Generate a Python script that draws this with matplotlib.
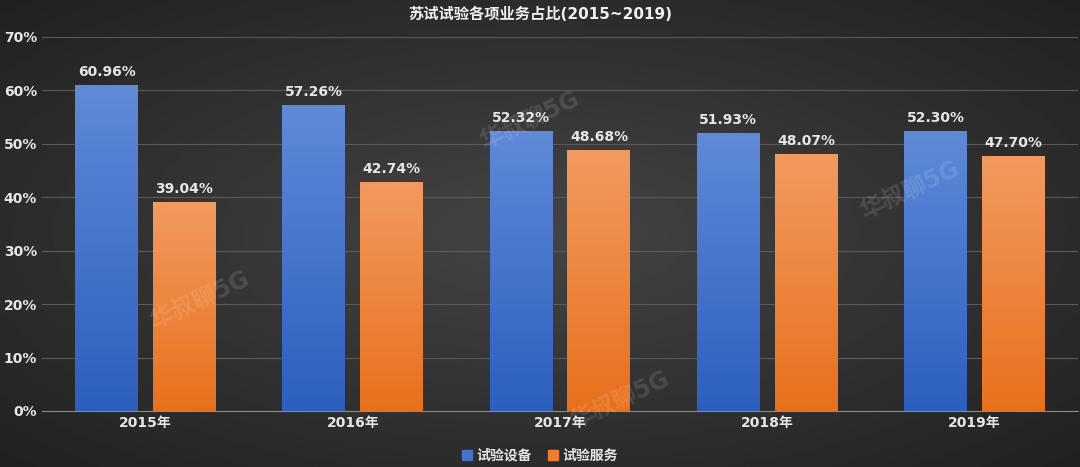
import matplotlib
matplotlib.use("Agg")
import matplotlib.pyplot as plt
import numpy as np
from matplotlib.patches import Patch
from matplotlib import font_manager

names = {f.name for f in font_manager.fontManager.ttflist}
cjk = [n for n in ["Noto Sans CJK SC", "Noto Sans CJK JP", "Noto Sans CJK TC", "Noto Sans CJK KR"] if n in names]
plt.rcParams['font.family'] = ['DejaVu Sans'] + cjk

years = ["2015年", "2016年", "2017年", "2018年", "2019年"]
equip = [60.96, 57.26, 52.32, 51.93, 52.30]
service = [39.04, 42.74, 48.68, 48.07, 47.70]
series_names = ["试验设备", "试验服务"]
title = "苏试试验各项业务占比(2015~2019)"

fig = plt.figure(figsize=(10.8, 4.67), dpi=100)
bg = fig.add_axes([0, 0, 1, 1])
yy, xx = np.mgrid[-1:1:200j, -1:1:400j]
r = np.sqrt(xx**2 + yy**2)
bg.imshow(0.27 - 0.1 * r, cmap='gray', vmin=0, vmax=1, aspect='auto', extent=[0, 1, 0, 1])
bg.axis('off')

ax = fig.add_axes([42/1080, 1 - 411/467, 1036/1080, (411-37)/467])
ax.set_facecolor('none')
x = np.arange(len(years))
w = 0.304
off = 0.188

def grad_bar(xc, h, top, bot):
    grad = np.linspace(0, 1, 100).reshape(-1, 1)
    c1 = np.array(matplotlib.colors.to_rgb(top)); c2 = np.array(matplotlib.colors.to_rgb(bot))
    img = c2[None, None, :] * (1 - grad[..., None]) + c1[None, None, :] * grad[..., None]
    ax.imshow(img, extent=[xc - w/2, xc + w/2, 0, h], origin='lower', aspect='auto', zorder=3)

for i in x:
    grad_bar(i - off, equip[i], '#5f8ad8', '#2d5fbf')
    grad_bar(i + off, service[i], '#f29a60', '#e8701c')
    ax.text(i - off, equip[i] + 1.2, f"{equip[i]:.2f}%", ha='center', va='bottom', color='#e6e6e6', fontsize=10, fontweight='bold', zorder=4)
    ax.text(i + off, service[i] + 1.2, f"{service[i]:.2f}%", ha='center', va='bottom', color='#e6e6e6', fontsize=10, fontweight='bold', zorder=4)

ax.set_aspect('auto')
ax.set_xlim(-0.5, 4.5)
ax.set_ylim(0, 70)
ax.set_yticks(range(0, 71, 10))
ax.set_yticklabels([f"{v}%" for v in range(0, 71, 10)])
ax.set_xticks(x)
ax.set_xticklabels(years)
ax.tick_params(colors='#e6e6e6', length=0, labelsize=10)
for lbl in ax.get_xticklabels() + ax.get_yticklabels():
    lbl.set_fontweight('bold')
ax.grid(axis='y', color='#5a5a5a', linewidth=0.8, zorder=0)
for s in ['top', 'right', 'left']:
    ax.spines[s].set_visible(False)
ax.spines['bottom'].set_color('#8a8a8a')

for (px, py) in [(200, 300), (530, 120), (620, 400), (910, 190)]:
    fig.text(px/1080, 1 - py/467, "华叔聊5G", color='white', alpha=0.12, fontsize=17, fontweight='bold', rotation=25, ha='center', va='center')

fig.text(0.5, 1 - 14/467, title, ha='center', va='center', color='#f0f0f0', fontsize=11, fontweight='bold')
handles = [Patch(color='#4472c4'), Patch(color='#ed7d31')]
leg = fig.legend(handles, series_names, loc='center', bbox_to_anchor=(0.5, 1 - 456/467), ncol=2, frameon=False,
                 handlelength=0.7, handleheight=0.7, columnspacing=1.2, handletextpad=0.3, fontsize=10)
for t in leg.get_texts():
    t.set_color('#e6e6e6'); t.set_fontweight('bold')

fig.savefig('out.png', dpi=100)
